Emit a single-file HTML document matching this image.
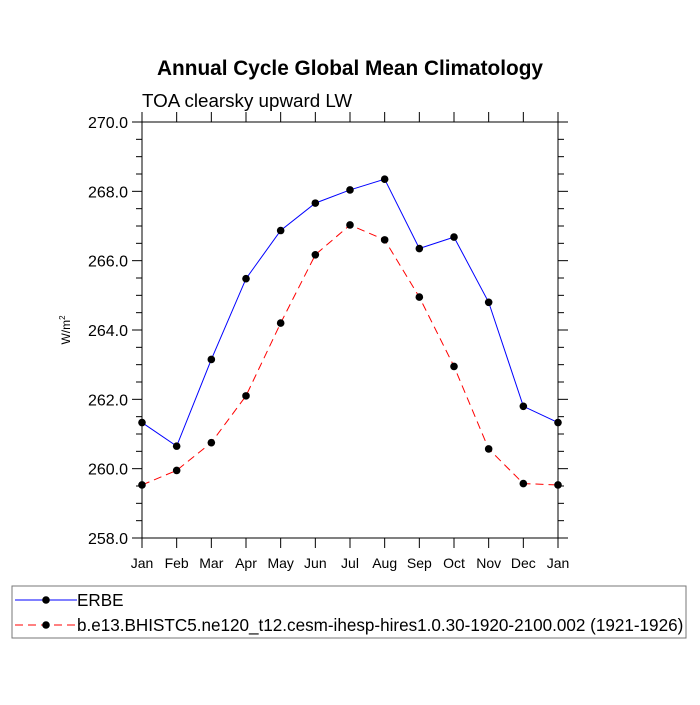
<!DOCTYPE html>
<html><head><meta charset="utf-8"><style>
body{margin:0;background:#fff;}
svg text{font-family:"Liberation Sans",sans-serif;}
</style></head><body>
<svg id="c" width="700" height="700" xmlns="http://www.w3.org/2000/svg">
<text x="350" y="75" text-anchor="middle" font-size="20.8" font-weight="bold">Annual Cycle Global Mean Climatology</text>
<text x="142" y="107" font-size="18.8">TOA clearsky upward LW</text>
<text transform="translate(70,330) rotate(-90)" text-anchor="middle" font-size="12">W/m<tspan dy="-5" font-size="8">2</tspan></text>
<g id="axes"></g>
<g id="series"></g>
<rect x="12" y="586" width="674" height="52" fill="none" stroke="#777" stroke-width="1"/>
<g>
<line x1="15" y1="600" x2="77" y2="600" stroke="blue" stroke-width="1"/>
<circle cx="46" cy="600" r="3.8" fill="#000"/>
<text x="77" y="606" font-size="17.1">ERBE</text></g>
<g>
<line x1="15" y1="625" x2="77" y2="625" stroke="red" stroke-width="1" stroke-dasharray="8,5"/>
<circle cx="46" cy="625" r="3.8" fill="#000"/>
<text x="77" y="631" font-size="17.1">b.e13.BHISTC5.ne120_t12.cesm-ihesp-hires1.0.30-1920-2100.002 (1921-1926)</text></g>
</svg>
<script>
const months=["Jan","Feb","Mar","Apr","May","Jun","Jul","Aug","Sep","Oct","Nov","Dec","Jan"];
const erbe=[261.33,260.65,263.15,265.48,266.87,267.66,268.04,268.35,266.35,266.68,264.8,261.8,261.33];
const model=[259.53,259.95,260.75,262.1,264.2,266.17,267.03,266.6,264.95,262.95,260.57,259.57,259.53];
const yTicks=[258,260,262,264,266,268,270];
const NS="http://www.w3.org/2000/svg";
const L=142,R=558,T=122,B=538,ymin=258,ymax=270;
const xs=i=>L+(R-L)*i/12;
const ys=v=>B-(v-ymin)/(ymax-ymin)*(B-T);
function mk(tag,attrs,parent){const e=document.createElementNS(NS,tag);for(const k in attrs)e.setAttribute(k,attrs[k]);parent.appendChild(e);return e;}
const ax=document.getElementById('axes');
const fr=mk('rect',{x:L,y:T,width:R-L,height:B-T,fill:'none',stroke:'#000','stroke-width':1},ax);


for(let v=ymin;v<=ymax+1e-9;v+=0.5){
  const major=Math.abs(v-Math.round(v))<1e-9&&Math.round(v)%2===0;
  const len=major?10:6,y=ys(v);
  mk('line',{x1:L-len,y1:y,x2:L,y2:y,stroke:'#000'},ax);
  mk('line',{x1:R,y1:y,x2:R+len,y2:y,stroke:'#000'},ax);
}
yTicks.forEach(v=>{
  const t=mk('text',{x:L-14,y:ys(v)+6,'text-anchor':'end','font-size':16},ax);
  t.textContent=v.toFixed(1);
  
  
});
months.forEach((m,i)=>{
  const x=xs(i);
  mk('line',{x1:x,y1:B,x2:x,y2:B+10,stroke:'#000'},ax);
  mk('line',{x1:x,y1:T-10,x2:x,y2:T,stroke:'#000'},ax);
  const t=mk('text',{x:x,y:B+30,'text-anchor':'middle','font-size':14},ax);
  t.textContent=m;
  
  
});
const sg=document.getElementById('series');
function draw(vals,color,dash,name){
  const g=mk('g',{},sg);
  
  
  const pts=vals.map((v,i)=>xs(i)+','+ys(v)).join(' ');
  const a={points:pts,fill:'none',stroke:color,'stroke-width':1};
  if(dash)a['stroke-dasharray']=dash;
  mk('polyline',a,g);
  vals.forEach((v,i)=>{
    const c=mk('circle',{cx:xs(i),cy:ys(v),r:3.8,fill:'#000'},g);
    
    
  });
}
draw(erbe,'blue',null,'erbe-series');
draw(model,'red','8,5','model-series');
</script>
</body></html>
